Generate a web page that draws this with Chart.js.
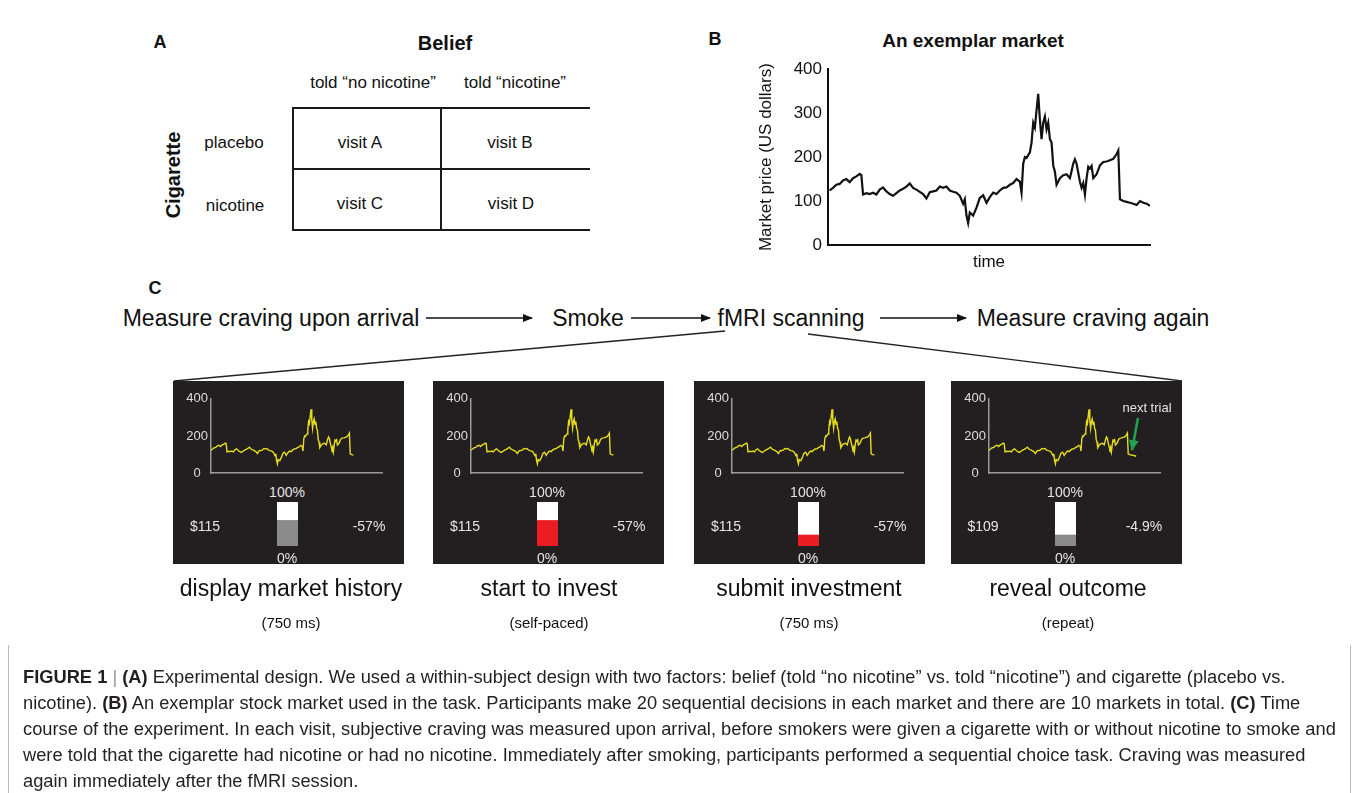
<!DOCTYPE html>
<html lang="en">
<head>
    <meta charset="UTF-8">
    <title>Figure 1 - belief, nicotine and market task</title>
    <script src="https://cdn.jsdelivr.net/npm/chart.js"></script>
    <style>
        body {
            margin: 0;
            width: 1356px;
            height: 793px;
            position: relative;
            overflow: hidden;
            background: #fff;
            font-family: "Liberation Sans", Arial, sans-serif;
            color: #111;
        }
        .t {
            position: absolute;
            white-space: nowrap;
            transform: translate(-50%, -50%);
            line-height: 1;
        }
        .bold { font-weight: bold; }
        .flow { font-size: 23px; }
        .sub { font-size: 15px; }
        .cell-line { position: absolute; background: #1a1a1a; }
        .panel {
            position: absolute;
            top: 381px;
            width: 231px;
            height: 183px;
            background: #231f20;
            color: #e4e4e4;
        }
        .panel canvas { position: absolute; }
        .panel .t { font-size: 14px; }
        #caption {
            position: absolute;
            left: 8px;
            top: 645px;
            width: 1341px;
            height: 160px;
            border-left: 1px solid #bdbdbd;
            border-right: 1px solid #bdbdbd;
        }
        #caption p {
            margin: 0;
            position: absolute;
            left: 14px;
            top: 19px;
            font-size: 18.3px;
            line-height: 26px;
            color: #231f20;
            white-space: nowrap;
        }
        .sep { color: #999; }
    </style>
</head>
<body>
    <!-- panel A -->
    <div class="t bold" style="left:160px; top:42px; font-size:18px;">A</div>
    <div class="t bold" style="left:445px; top:43px; font-size:20px;">Belief</div>
    <div class="t" style="left:373px; top:82px; font-size:17px;">told “no nicotine”</div>
    <div class="t" style="left:515px; top:82px; font-size:17px;">told “nicotine”</div>
    <div class="t bold" style="left:173px; top:175px; font-size:20px; transform:translate(-50%,-50%) rotate(-90deg);">Cigarette</div>
    <div class="t" style="left:234px; top:142px; font-size:17px;">placebo</div>
    <div class="t" style="left:235px; top:205px; font-size:17px;">nicotine</div>
    <div class="cell-line" style="left:292px; top:107px; width:298px; height:2px;"></div>
    <div class="cell-line" style="left:292px; top:168px; width:298px; height:2px;"></div>
    <div class="cell-line" style="left:292px; top:229px; width:298px; height:2px;"></div>
    <div class="cell-line" style="left:292px; top:107px; width:2px; height:124px;"></div>
    <div class="cell-line" style="left:440px; top:107px; width:2px; height:124px;"></div>
    <div class="t" style="left:360px; top:142px; font-size:17px;">visit A</div>
    <div class="t" style="left:510px; top:142px; font-size:17px;">visit B</div>
    <div class="t" style="left:360px; top:203px; font-size:17px;">visit C</div>
    <div class="t" style="left:511px; top:203px; font-size:17px;">visit D</div>

    <!-- panel B -->
    <div class="t bold" style="left:715px; top:39px; font-size:18px;">B</div>
    <div class="t bold" style="left:973px; top:40px; font-size:19px;">An exemplar market</div>
    <canvas id="marketChart" width="406" height="222" style="position:absolute; left:752px; top:53px;"></canvas>

    <!-- panel C -->
    <div class="t bold" style="left:155px; top:288px; font-size:18px;">C</div>
    <div class="t flow" style="left:271px; top:318px;">Measure craving upon arrival</div>
    <div class="t flow" style="left:588px; top:318px;">Smoke</div>
    <div class="t flow" style="left:791px; top:318px;">fMRI scanning</div>
    <div class="t flow" style="left:1093px; top:318px;">Measure craving again</div>

    <svg width="1356" height="793" style="position:absolute; left:0; top:0; pointer-events:none;">
        <defs>
            <marker id="head" markerWidth="10" markerHeight="8" refX="9" refY="4" orient="auto" markerUnits="userSpaceOnUse">
                <path d="M0,0 L10,4 L0,8 Z" fill="#111"/>
            </marker>
            <marker id="headGreen" markerWidth="11" markerHeight="10" refX="10" refY="5" orient="auto" markerUnits="userSpaceOnUse">
                <path d="M0,0 L11,5 L0,10 Z" fill="#1ea34c"/>
            </marker>
        </defs>
        <line x1="426" y1="318" x2="532" y2="318" stroke="#111" stroke-width="1.6" marker-end="url(#head)"/>
        <line x1="631" y1="318" x2="710" y2="318" stroke="#111" stroke-width="1.6" marker-end="url(#head)"/>
        <line x1="880" y1="318" x2="966" y2="318" stroke="#111" stroke-width="1.6" marker-end="url(#head)"/>
        <line x1="725" y1="331" x2="174" y2="381" stroke="#222" stroke-width="1.4"/>
        <line x1="808" y1="334" x2="1182" y2="381" stroke="#222" stroke-width="1.4"/>
    </svg>

    <div class="panel" id="p0" style="left:173px;"></div>
    <div class="panel" id="p1" style="left:433px;"></div>
    <div class="panel" id="p2" style="left:694px;"></div>
    <div class="panel" id="p3" style="left:951px;"></div>

    <svg width="1356" height="793" style="position:absolute; left:0; top:0; pointer-events:none;">
        <line x1="1138" y1="418" x2="1132" y2="450" stroke="#1ea34c" stroke-width="2.6" marker-end="url(#headGreen)"/>
    </svg>
    <div class="t" style="left:1147px; top:407px; font-size:13px; color:#e4e4e4;">next trial</div>

    <div class="t flow" style="left:291px; top:588px;">display market history</div>
    <div class="t sub" style="left:291px; top:622px;">(750 ms)</div>
    <div class="t flow" style="left:549px; top:588px;">start to invest</div>
    <div class="t sub" style="left:549px; top:622px;">(self-paced)</div>
    <div class="t flow" style="left:809px; top:588px;">submit investment</div>
    <div class="t sub" style="left:809px; top:622px;">(750 ms)</div>
    <div class="t flow" style="left:1068px; top:588px;">reveal outcome</div>
    <div class="t sub" style="left:1068px; top:622px;">(repeat)</div>

    <div id="caption">
        <p><b>FIGURE 1</b> <span class="sep">|</span> <b>(A)</b> Experimental design. We used a within-subject design with two factors: belief (told “no nicotine” vs. told “nicotine”) and cigarette (placebo vs.<br>nicotine). <b>(B)</b> An exemplar stock market used in the task. Participants make 20 sequential decisions in each market and there are 10 markets in total. <b>(C)</b> Time<br>course of the experiment. In each visit, subjective craving was measured upon arrival, before smokers were given a cigarette with or without nicotine to smoke and<br>were told that the cigarette had nicotine or had no nicotine. Immediately after smoking, participants performed a sequential choice task. Craving was measured<br>again immediately after the fMRI session.</p>
    </div>

    <script>
        // market price path (trial index, US dollars)
        const marketTime = [0, 2, 4, 6, 8, 10, 12, 14, 16, 18, 19, 20, 22, 24, 26, 28, 30, 32, 34, 36, 38, 40,
            42, 44, 46, 48, 50, 52, 54, 56, 58, 60, 62, 64, 66, 68, 70, 72, 74, 76, 78, 80, 81, 82, 83, 84,
            86, 88, 90, 92, 94, 96, 98, 100, 102, 104, 106, 108, 110, 112, 114, 115, 116, 117, 118, 120, 121,
            122, 123, 124, 125, 126, 127, 128, 129, 130, 131, 132, 133, 134, 135, 136, 138, 140, 142, 144,
            146, 147, 148, 150, 151, 152, 153, 154, 155, 156, 157, 158, 160, 162, 164, 166, 168, 170, 172,
            173, 174, 176, 178, 180, 182, 184, 186, 188, 190, 192];
        const marketPrice = [124, 130, 137, 139, 147, 150, 143, 152, 156, 162, 159, 115, 118, 116, 119, 115,
            126, 131, 122, 116, 112, 118, 124, 128, 133, 140, 130, 126, 121, 116, 106, 120, 122, 124, 133,
            130, 133, 124, 121, 119, 112, 94, 104, 67, 50, 74, 67, 85, 107, 113, 96, 109, 119, 116, 124, 130,
            131, 137, 141, 150, 144, 119, 185, 200, 198, 211, 233, 278, 267, 307, 344, 285, 241, 278, 292,
            263, 278, 241, 233, 181, 167, 137, 152, 159, 161, 152, 185, 195, 185, 144, 130, 141, 115, 152,
            178, 174, 180, 152, 161, 181, 189, 190, 193, 196, 207, 215, 104, 100, 98, 96, 94, 91, 100, 96,
            94, 89];
        const priceTicks = [0, 100, 200, 300, 400];

        // the four task screens
        const screenShownUpTo = [178, 178, 178, 184];
        const screenInvested = [58, 58, 25, 25];
        const screenBarColor = ['#8a8a8a', '#ec1c24', '#ec1c24', '#8a8a8a'];
        const screenPrice = ['$115', '$115', '$115', '$109'];
        const screenReturn = ['-57%', '-57%', '-57%', '-4.9%'];
        const screenTicks = [0, 200, 400];

        const points = marketTime.map((t, i) => ({ x: t, y: marketPrice[i] }));
        const noPlugins = { legend: { display: false }, tooltip: { enabled: false } };

        new Chart(document.getElementById('marketChart'), {
            type: 'line',
            data: {
                datasets: [{
                    data: points,
                    borderColor: '#111',
                    borderWidth: 2.2,
                    pointRadius: 0,
                    tension: 0
                }]
            },
            options: {
                responsive: false,
                animation: false,
                layout: { padding: { top: 12, right: 8, bottom: 0, left: 0 } },
                plugins: noPlugins,
                scales: {
                    x: {
                        type: 'linear', min: -1, max: 192,
                        grid: { display: false, drawTicks: false },
                        border: { color: '#111', width: 2 },
                        ticks: { display: false },
                        title: { display: true, text: 'time', color: '#111', font: { size: 17 }, padding: { top: 0, bottom: 2 } },
                        afterFit(s) { s.height = 30; }
                    },
                    y: {
                        min: 0, max: 400,
                        afterBuildTicks(s) { s.ticks = priceTicks.map(v => ({ value: v })); },
                        grid: { display: false, drawTicks: false },
                        border: { color: '#111', width: 2 },
                        ticks: { color: '#111', font: { size: 17 }, padding: 6 },
                        title: { display: true, text: 'Market price (US dollars)', color: '#111', font: { size: 17 }, padding: { top: 4, bottom: 0 } },
                        afterFit(s) { s.width = 76; }
                    }
                }
            }
        });

        screenShownUpTo.forEach((last, k) => {
            const panel = document.getElementById('p' + k);

            const lineCanvas = document.createElement('canvas');
            lineCanvas.width = 200; lineCanvas.height = 96;
            lineCanvas.style.left = '10px'; lineCanvas.style.top = '7px';
            panel.appendChild(lineCanvas);

            new Chart(lineCanvas, {
                type: 'line',
                data: {
                    datasets: [{
                        data: points.filter(p => p.x <= last),
                        borderColor: '#e6dc1e',
                        borderWidth: 1.4,
                        pointRadius: 0,
                        tension: 0
                    }]
                },
                options: {
                    responsive: false,
                    animation: false,
                    layout: { padding: { top: 8, right: 0, bottom: 8, left: 0 } },
                    plugins: noPlugins,
                    scales: {
                        x: {
                            type: 'linear', min: 0, max: 215,
                            grid: { display: false, drawTicks: false },
                            border: { color: '#9a9a9a', width: 1.5 },
                            ticks: { display: false },
                            afterFit(s) { s.height = 0; }
                        },
                        y: {
                            min: 0, max: 400,
                            afterBuildTicks(s) { s.ticks = screenTicks.map(v => ({ value: v })); },
                            grid: { display: false, drawTicks: false },
                            border: { color: '#9a9a9a', width: 1.5 },
                            ticks: { color: '#dedede', font: { size: 13 }, padding: 3, crossAlign: 'center' },
                            afterFit(s) { s.width = 28; }
                        }
                    }
                }
            });

            const barCanvas = document.createElement('canvas');
            barCanvas.width = 21; barCanvas.height = 44;
            barCanvas.style.left = '104px'; barCanvas.style.top = '121px';
            panel.appendChild(barCanvas);

            new Chart(barCanvas, {
                type: 'bar',
                data: {
                    labels: [''],
                    datasets: [
                        { data: [screenInvested[k]], backgroundColor: screenBarColor[k] },
                        { data: [100 - screenInvested[k]], backgroundColor: '#ffffff' }
                    ]
                },
                options: {
                    responsive: false,
                    animation: false,
                    plugins: noPlugins,
                    datasets: { bar: { barPercentage: 1, categoryPercentage: 1, borderWidth: 0 } },
                    scales: {
                        x: { stacked: true, display: false },
                        y: { stacked: true, display: false, min: 0, max: 100 }
                    }
                }
            });

            const labels = [
                ['100%', 114, 111], ['0%', 114, 177],
                [screenPrice[k], 32, 145], [screenReturn[k], k === 3 ? 193 : 196, 145]
            ];
            labels.forEach(([txt, x, y]) => {
                const d = document.createElement('div');
                d.className = 't';
                d.style.left = x + 'px';
                d.style.top = y + 'px';
                d.textContent = txt;
                panel.appendChild(d);
            });
        });
    </script>
</body>
</html>
